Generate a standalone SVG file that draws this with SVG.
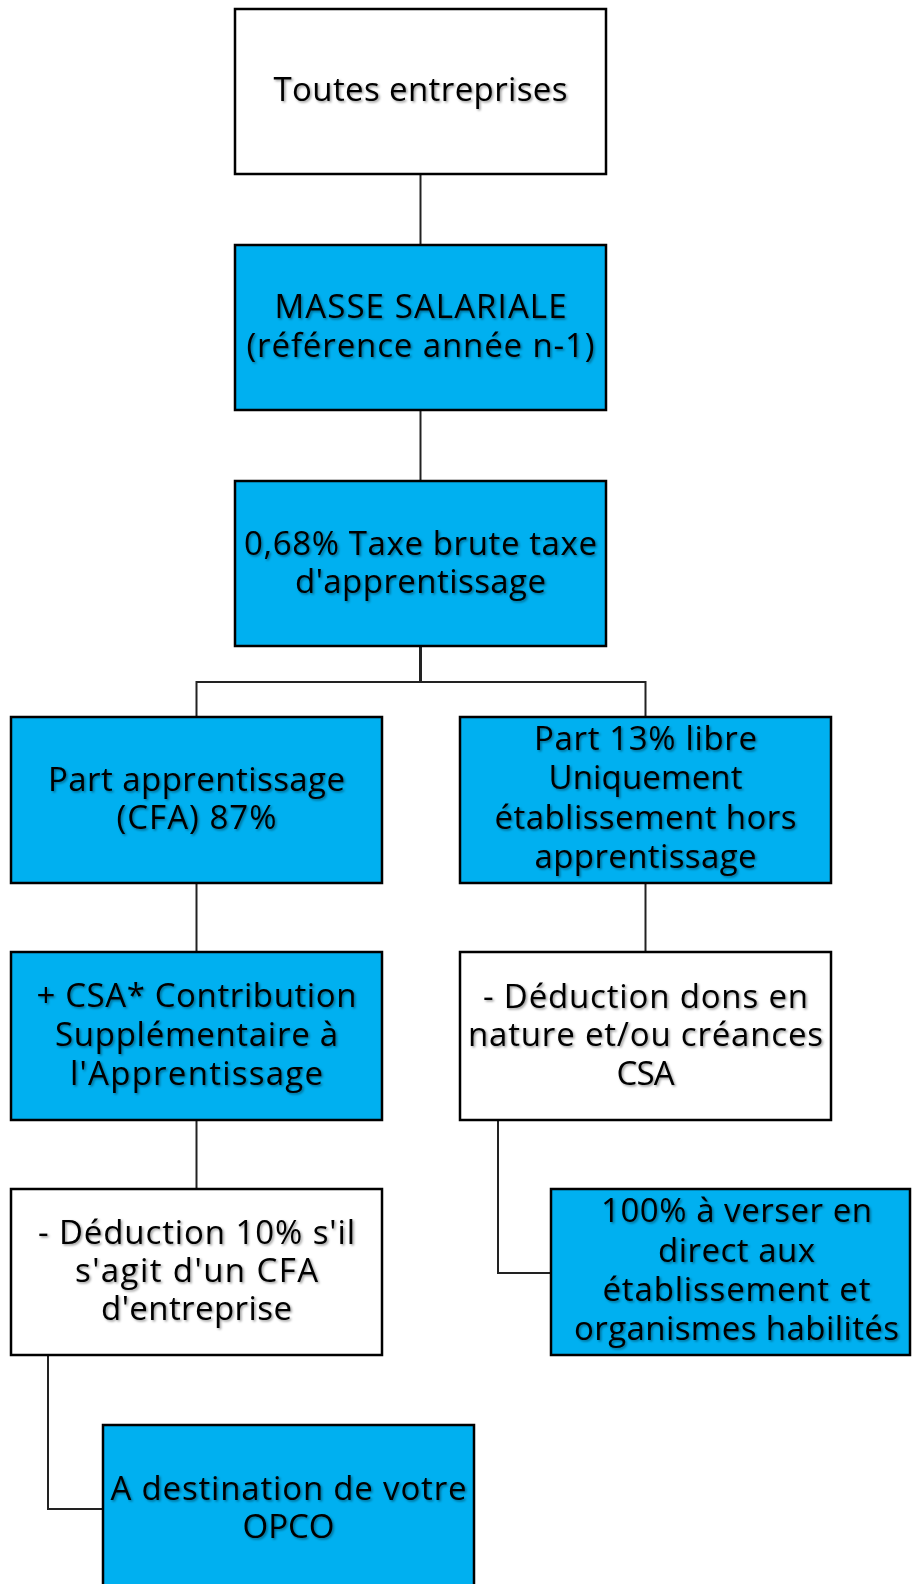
<svg xmlns="http://www.w3.org/2000/svg" width="912" height="1584" viewBox="0 0 912 1584">
<defs>
<filter id="sh" x="-5%" y="-20%" width="110%" height="140%">
<feDropShadow dx="1.5" dy="1.5" stdDeviation="1.2" flood-color="#000" flood-opacity="0.4"/>
</filter>
</defs>
<style>
.blue{fill:#00B0F0;stroke:#000;stroke-width:2.5}
.white{fill:#fff;stroke:#000;stroke-width:2.5}
.conn{fill:none;stroke:#222;stroke-width:2}
text{font-family:"Open Sans","Liberation Sans",sans-serif;font-size:33px;fill:#000;text-anchor:middle;filter:url(#sh)}
</style>
<rect width="912" height="1584" fill="#fff"/>
<g id="connectors">
<line class="conn" x1="420.5" y1="174" x2="420.5" y2="245"/>
<line class="conn" x1="420.5" y1="410" x2="420.5" y2="481"/>
<line class="conn" x1="420.5" y1="646" x2="420.5" y2="682" style="stroke-width:3"/>
<polyline class="conn" points="196.5,717 196.5,682 645.5,682 645.5,717"/>
<line class="conn" x1="196.5" y1="883" x2="196.5" y2="952"/>
<line class="conn" x1="645.5" y1="883" x2="645.5" y2="952"/>
<line class="conn" x1="196.5" y1="1120" x2="196.5" y2="1189"/>
<polyline class="conn" points="498,1120 498,1273 551,1273"/>
<polyline class="conn" points="48,1355 48,1509 103,1509"/>
</g>
<g id="n1">
<rect class="white" x="235" y="9" width="371" height="165"/>
<text x="420.5" y="101" textLength="294" lengthAdjust="spacing">Toutes entreprises</text>
</g>
<g id="n2">
<rect class="blue" x="235" y="245" width="371" height="165"/>
<text x="420.5" y="318" textLength="292" lengthAdjust="spacing">MASSE SALARIALE</text>
<text x="420.5" y="357" textLength="348" lengthAdjust="spacing">(référence année n-1)</text>
</g>
<g id="n3">
<rect class="blue" x="235" y="481" width="371" height="165"/>
<text x="420.5" y="555" textLength="353" lengthAdjust="spacing">0,68% Taxe brute taxe</text>
<text x="420.5" y="593" textLength="251" lengthAdjust="spacing">d'apprentissage</text>
</g>
<g id="n4">
<rect class="blue" x="11" y="717" width="371" height="166"/>
<text x="196.5" y="791" textLength="297" lengthAdjust="spacing">Part apprentissage</text>
<text x="196.5" y="829" textLength="160" lengthAdjust="spacing">(CFA) 87%</text>
</g>
<g id="n5">
<rect class="blue" x="460" y="717" width="371" height="166"/>
<text x="645.5" y="750" textLength="223" lengthAdjust="spacing">Part 13% libre</text>
<text x="645.5" y="789" textLength="194" lengthAdjust="spacing">Uniquement</text>
<text x="645.5" y="829" textLength="302" lengthAdjust="spacing">établissement hors</text>
<text x="645.5" y="868" textLength="222" lengthAdjust="spacing">apprentissage</text>
</g>
<g id="n6">
<rect class="blue" x="11" y="952" width="371" height="168"/>
<text x="196.5" y="1007" textLength="320" lengthAdjust="spacing">+ CSA* Contribution</text>
<text x="196.5" y="1046" textLength="283" lengthAdjust="spacing">Supplémentaire à</text>
<text x="196.5" y="1085" textLength="253" lengthAdjust="spacing">l'Apprentissage</text>
</g>
<g id="n7">
<rect class="white" x="460" y="952" width="371" height="168"/>
<text x="645.5" y="1008" textLength="325" lengthAdjust="spacing">- Déduction dons en</text>
<text x="645.5" y="1046" textLength="355" lengthAdjust="spacing">nature et/ou créances</text>
<text x="645.5" y="1085" textLength="58" lengthAdjust="spacing">CSA</text>
</g>
<g id="n8">
<rect class="white" x="11" y="1189" width="371" height="166"/>
<text x="196.5" y="1244" textLength="317" lengthAdjust="spacing">- Déduction 10% s'il</text>
<text x="196.5" y="1282" textLength="243" lengthAdjust="spacing">s'agit d'un CFA</text>
<text x="196.5" y="1320" textLength="191" lengthAdjust="spacing">d'entreprise</text>
</g>
<g id="n9">
<rect class="blue" x="551" y="1189" width="359" height="166"/>
<text x="736.5" y="1222" textLength="271" lengthAdjust="spacing">100% à verser en</text>
<text x="736.5" y="1262" textLength="157" lengthAdjust="spacing">direct aux</text>
<text x="736.5" y="1301" textLength="268" lengthAdjust="spacing">établissement et</text>
<text x="736.5" y="1340" textLength="325" lengthAdjust="spacing">organismes habilités</text>
</g>
<g id="n10">
<rect class="blue" x="103" y="1425" width="371" height="180"/>
<text x="288.5" y="1500" textLength="356" lengthAdjust="spacing">A destination de votre</text>
<text x="288.5" y="1538" textLength="92" lengthAdjust="spacing">OPCO</text>
</g>
</svg>
